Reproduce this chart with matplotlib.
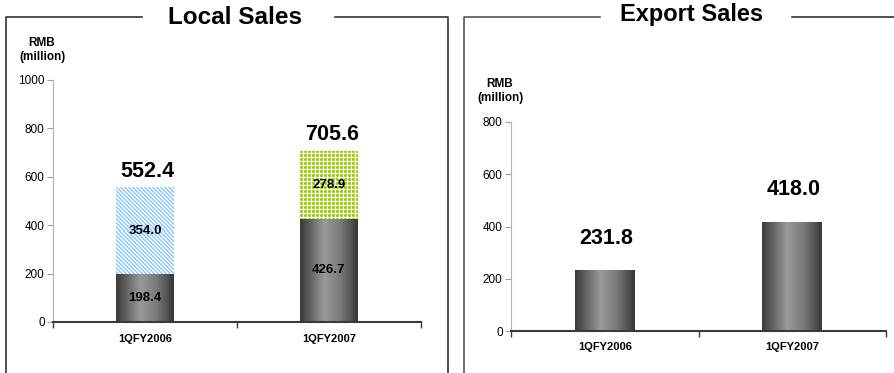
import numpy as np
import matplotlib
matplotlib.use("Agg")
import matplotlib.pyplot as plt
from matplotlib.colors import LinearSegmentedColormap, to_rgb
from matplotlib.lines import Line2D

plt.rcParams['font.family'] = ['Liberation Sans', 'DejaVu Sans']

quarters = ['1QFY2006', '1QFY2007']
local_base = [198.4, 426.7]
local_extra = [354.0, 278.9]
local_total = [552.4, 705.6]
export_sales = [231.8, 418.0]

W, H = 894, 373
fig = plt.figure(figsize=(W / 100, H / 100), dpi=100)


def px_rect(x0, y0, x1, y1):
    # pixel box (top-left origin) -> figure fraction rect
    return [x0 / W, 1 - y1 / H, (x1 - x0) / W, (y1 - y0) / H]


def fig_line(xs, ys, color='#333333', lw=1.0):
    fig.add_artist(Line2D([x / W for x in xs], [1 - y / H for y in ys],
                          transform=fig.transFigure, color=color, lw=lw))


ax1 = fig.add_axes(px_rect(53, 80, 421, 322))
ax2 = fig.add_axes(px_rect(511, 122, 886, 331))

cyl = LinearSegmentedColormap.from_list(
    'cyl', [(0, '#3c3c3c'), (0.15, '#5c5c5c'), (0.42, '#9a9a9a'),
            (0.7, '#7a7a7a'), (0.9, '#505050'), (1, '#383838')])


def texture(ax, p, kind):
    # fill a bar with a pixel-aligned texture image
    bx0, by0 = p.get_x(), p.get_y()
    bx1, by1 = bx0 + p.get_width(), by0 + p.get_height()
    (x0, y0), (x1, y1) = ax.transData.transform([(bx0, by0), (bx1, by1)])
    c0, c1 = int(round(x0)), int(round(x1))
    r0, r1 = int(round(y0)), int(round(y1))
    (bx0, by0), (bx1, by1) = ax.transData.inverted().transform([(c0, r0), (c1, r1)])
    w = c1 - c0
    i, j = np.mgrid[r1 - 1:r0 - 1:-1, c0:c1]
    if kind == 'cyl':
        img = np.repeat(cyl(np.linspace(0, 1, w))[None, :, :3], 2, axis=0)
    elif kind == 'stripes':
        mask = ((j + i) % 4) < 2
        img = np.where(mask[..., None], to_rgb('#99ccff'), to_rgb('#f2f8ff'))
    else:
        # 3x3 green dots with softened corners on a 4 px grid
        a, b = i % 4, j % 4
        inside = (a <= 2) & (b <= 2)
        corner = inside & (a != 1) & (b != 1)
        img = np.ones(a.shape + (3,))
        img[inside] = to_rgb('#99cc00')
        img[corner] = to_rgb('#b8dc40')
    ax.imshow(img, extent=(bx0, bx1, by0, by1),
              aspect='auto', interpolation='nearest', zorder=2)


def style_axes(ax, ymax):
    ax.set_xlim(-0.5, 1.5)
    ax.set_ylim(0, ymax)
    ax.autoscale(False)
    for s in ['top', 'right']:
        ax.spines[s].set_visible(False)
    ax.spines['left'].set_color('#b4b4b4')
    ax.spines['bottom'].set_color('#3a3a3a')
    ax.spines['bottom'].set_linewidth(1.5)
    ax.set_yticks(np.arange(0, ymax + 1, 200))
    ax.tick_params(axis='y', length=4, color='#a0a0a0', labelsize=8.5, pad=2)
    ax.set_xticks(x)
    ax.set_xticklabels(quarters, fontweight='bold', fontsize=8)
    ax.tick_params(axis='x', which='major', length=0, pad=9)
    ax.set_xticks([-0.5, 0.5, 1.5], minor=True)
    ax.tick_params(axis='x', which='minor', length=4, color='#3a3a3a', width=1)


x = np.arange(len(quarters))
bw = 0.32

# Local sales: stacked bars
style_axes(ax1, 1000)
base = ax1.bar(x, local_base, bw, color='none', zorder=1)
extra = ax1.bar(x, local_extra, bw, bottom=local_base, color='none', zorder=1)
for p in base:
    texture(ax1, p, 'cyl')
texture(ax1, extra[0], 'stripes')
texture(ax1, extra[1], 'dots')
for xi, b, e, t in zip(x, local_base, local_extra, local_total):
    ax1.text(xi, b / 2, f'{b:.1f}', ha='center', va='center', fontsize=9.5,
             fontweight='bold', zorder=3)
    ax1.text(xi, b + e / 2, f'{e:.1f}', ha='center', va='center', fontsize=9.5,
             fontweight='bold', zorder=3)
    ax1.annotate(f'{t:.1f}', (xi, t), xytext=(2, 12), textcoords='offset points',
                 ha='center', va='center', fontsize=15.5, fontweight='bold')

# Export sales
style_axes(ax2, 800)
ax2.tick_params(axis='x', which='major', pad=8)
bars = ax2.bar(x, export_sales, bw, color='none', zorder=1)
for p in bars:
    texture(ax2, p, 'cyl')
for xi, v in zip(x, export_sales):
    ax2.annotate(f'{v:.1f}', (xi, v), xytext=(1, 23), textcoords='offset points',
                 ha='center', va='center', fontsize=15.5, fontweight='bold')

# unit labels and panel titles
fig.text(42 / W, 1 - 50 / H, 'RMB\n(million)', ha='center', va='center',
         fontsize=8.5, fontweight='bold', linespacing=1.15)
fig.text(500 / W, 1 - 91 / H, 'RMB\n(million)', ha='center', va='center',
         fontsize=8.5, fontweight='bold', linespacing=1.15)
fig.text(235 / W, 1 - 18 / H, 'Local Sales', ha='center', va='center',
         fontsize=17.5, fontweight='bold')
fig.text(692 / W, 1 - 15 / H, 'Export Sales', ha='center', va='center',
         fontsize=17, fontweight='bold')

# panel frames with a gap for the title
fig_line([142, 6, 6], [17, 17, 373], color='#333333', lw=1.2)
fig_line([335, 448, 448], [17, 17, 373], color='#333333', lw=1.2)
fig_line([600, 464, 464], [17, 17, 373], color='#555555', lw=1.2)
fig_line([792, 894], [17, 17], color='#333333', lw=1.2)

fig.savefig('out.png', dpi=100)
